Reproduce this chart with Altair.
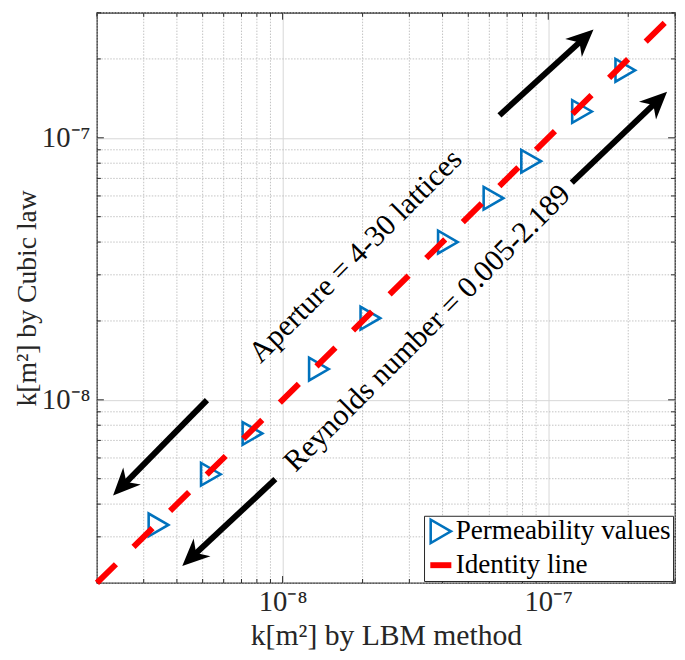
import math
import altair as alt
import pandas as pd

# ---- data ----
LBM = [3.41e-9, 5.37e-9, 7.7e-9, 1.37e-8, 2.14e-8, 4.19e-8, 6.22e-8, 8.62e-8, 1.34e-7, 1.95e-7]
CUBIC = [3.33e-9, 5.2e-9, 7.44e-9, 1.31e-8, 2.05e-8, 4.0e-8, 5.88e-8, 8.14e-8, 1.26e-7, 1.81e-7]
SERIES = ["Permeability values", "Identity line"]
IDENTITY = [2e-9, 3e-7]
DOMAIN = [2e-9, 3e-7]
MAJOR = [1e-8, 1e-7]
TICK_LABELS = ["10⁻⁸", "10⁻⁷"]
MINOR = [2e-9, 3e-9, 4e-9, 5e-9, 6e-9, 7e-9, 8e-9, 9e-9,
         2e-8, 3e-8, 4e-8, 5e-8, 6e-8, 7e-8, 8e-8, 9e-8,
         2e-7, 3e-7]
ARROW_X0 = [5.19e-9, 9.39e-9, 6.55e-8, 1.226e-7]
ARROW_Y0 = [9.97e-9, 4.98e-9, 1.218e-7, 6.74e-8]
ARROW_X1 = [2.30e-9, 4.19e-9, 1.48e-7, 2.80e-7]
ARROW_Y1 = [4.31e-9, 2.32e-9, 2.59e-7, 1.50e-7]
NOTES = ["Aperture = 4-30 lattices", "Reynolds number = 0.005-2.189"]
NOTE_X = [1.884e-8, 3.51e-8]
NOTE_Y = [3.53e-8, 1.873e-8]
X_TITLE = "k[m²] by LBM method"
Y_TITLE = "k[m²] by Cubic law"

W, H = 585, 577
BLUE, RED, INK = "#0072BD", "#FF0000", "#262626"
FONT = "Liberation Serif"

pts = pd.DataFrame({"x": LBM, "y": CUBIC, "series": SERIES[0]})
ident = pd.DataFrame({"x": IDENTITY, "y": IDENTITY})
minor = pd.DataFrame({"v": MINOR})
major = pd.DataFrame({"v": MAJOR})

lx0 = [math.log10(v) for v in ARROW_X0]
ly0 = [math.log10(v) for v in ARROW_Y0]
lx1 = [math.log10(v) for v in ARROW_X1]
ly1 = [math.log10(v) for v in ARROW_Y1]
arrows = pd.DataFrame({
    "x0": ARROW_X0, "y0": ARROW_Y0, "x1": ARROW_X1, "y1": ARROW_Y1,
    "xs": [10 ** (b - 0.12 * (b - a)) for a, b in zip(lx0, lx1)],
    "ys": [10 ** (b - 0.12 * (b - a)) for a, b in zip(ly0, ly1)],
    "ang": [(math.degrees(math.atan2(b - a, d - c)) + 360) % 360
            for a, b, c, d in zip(lx0, lx1, ly0, ly1)],
})
notes = pd.DataFrame({"x": NOTE_X, "y": NOTE_Y, "t": NOTES})

xs = alt.Scale(type="log", domain=DOMAIN, nice=False)
ys = alt.Scale(type="log", domain=DOMAIN, nice=False)

lab_expr = f"datum.value < 3e-8 ? '{TICK_LABELS[0]}' : '{TICK_LABELS[1]}'"
xaxis = alt.Axis(values=MAJOR, labelExpr=lab_expr, grid=True, gridColor="#d6d6d6",
                 gridWidth=1, ticks=False, domain=False, labelFont=FONT,
                 labelFontSize=29, labelColor=INK, labelPadding=5, labelFlush=False,
                 title=X_TITLE, titleFont=FONT, titleFontSize=30,
                 titleFontWeight="normal", titleColor=INK, titlePadding=4)
yaxis = alt.Axis(values=MAJOR, labelExpr=lab_expr, grid=True, gridColor="#d6d6d6",
                 gridWidth=1, ticks=False, domain=False, labelFont=FONT,
                 labelFontSize=29, labelColor=INK, labelPadding=7, labelFlush=False,
                 title=Y_TITLE, titleFont=FONT, titleFontSize=28,
                 titleFontWeight="normal", titleColor=INK, titlePadding=0)

X = lambda f: alt.X(f, scale=xs, axis=xaxis)
Y = lambda f: alt.Y(f, scale=ys, axis=yaxis)

layers = []
# minor grid (dotted)
layers.append(alt.Chart(minor).mark_rule(color="#c2c2c2", strokeWidth=1, strokeDash=[1.5, 1.5])
              .encode(x=X("v:Q")))
layers.append(alt.Chart(minor).mark_rule(color="#c2c2c2", strokeWidth=1, strokeDash=[1.5, 1.5])
              .encode(y=Y("v:Q")))
# inside ticks on all four sides
for df, ln in ((minor, 4), (major, 7)):
    layers.append(alt.Chart(df).mark_rule(color=INK, strokeWidth=1)
                  .encode(x=X("v:Q"), y=alt.value(H), y2=alt.value(H - ln)))
    layers.append(alt.Chart(df).mark_rule(color=INK, strokeWidth=1)
                  .encode(x=X("v:Q"), y=alt.value(0), y2=alt.value(ln)))
    layers.append(alt.Chart(df).mark_rule(color=INK, strokeWidth=1)
                  .encode(y=Y("v:Q"), x=alt.value(0), x2=alt.value(ln)))
    layers.append(alt.Chart(df).mark_rule(color=INK, strokeWidth=1)
                  .encode(y=Y("v:Q"), x=alt.value(W), x2=alt.value(W - ln)))

legend = alt.Legend(title=None, orient="bottom-right", offset=2, padding=2,
                    strokeColor=INK, fillColor="white", labelFont=FONT,
                    labelFontSize=27.5, labelColor="black", labelOffset=0,
                    rowPadding=2, symbolSize=560, labelLimit=0)

layers.append(alt.Chart(pts).mark_point(filled=False, size=529, opacity=1).encode(
    x=X("x:Q"), y=Y("y:Q"),
    color=alt.Color("series:N", scale=alt.Scale(domain=SERIES, range=[BLUE, RED]), legend=legend),
    shape=alt.Shape("series:N", scale=alt.Scale(domain=SERIES, range=["triangle-right", "M-0.9,0L0.9,0"]), legend=legend),
    strokeWidth=alt.StrokeWidth("series:N", scale=alt.Scale(domain=SERIES, range=[2.6, 6]), legend=legend),
))
layers.append(alt.Chart(ident).mark_line(color=RED, strokeWidth=6, strokeDash=[27, 25], strokeCap="butt")
              .encode(x=X("x:Q"), y=Y("y:Q")))
layers.append(alt.Chart(arrows).mark_rule(color="black", strokeWidth=6)
              .encode(x=X("x0:Q"), y=Y("y0:Q"), x2="xs:Q", y2="ys:Q"))
layers.append(alt.Chart(arrows).mark_point(filled=True, color="black", opacity=1, size=760,
                                           shape="M0,0L0.9,2L0,1.4L-0.9,2Z")
              .encode(x=X("x1:Q"), y=Y("y1:Q"), angle=alt.Angle("ang:Q", scale=None)))
layers.append(alt.Chart(notes).mark_text(angle=315, font=FONT, fontSize=30.5, color="black",
                                         align="center", baseline="middle")
              .encode(x=X("x:Q"), y=Y("y:Q"), text="t:N"))

chart = alt.layer(*layers).properties(
    width=W, height=H,
    autosize=alt.AutoSizeParams(type="none"),
    padding={"left": 90, "top": 1, "right": 2, "bottom": 66},
).configure_view(stroke=INK, strokeWidth=1.3)

chart.save("out.html", embed_options={"renderer": "svg", "actions": False})
